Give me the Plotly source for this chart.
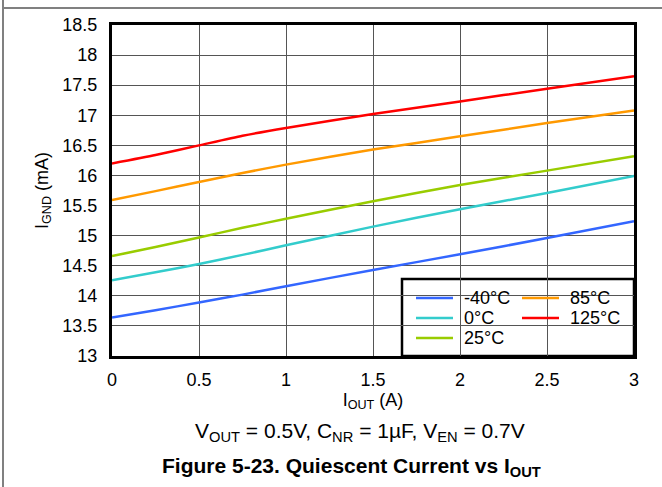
import plotly.graph_objects as go

# ---- data ----
iout = [0, 0.25, 0.5, 0.75, 1.0, 1.5, 2.0, 2.5, 3.0]
ignd_m40 = [13.64, 13.76, 13.89, 14.02, 14.16, 14.43, 14.69, 14.96, 15.24]
ignd_0 = [14.26, 14.39, 14.53, 14.68, 14.84, 15.15, 15.44, 15.71, 15.99]
ignd_25 = [14.66, 14.81, 14.97, 15.13, 15.28, 15.57, 15.84, 16.08, 16.32]
ignd_85 = [15.59, 15.74, 15.89, 16.04, 16.18, 16.43, 16.65, 16.87, 17.08]
ignd_125 = [16.20, 16.34, 16.50, 16.66, 16.79, 17.02, 17.23, 17.44, 17.65]

series_names = ["-40°C", "0°C", "25°C", "85°C", "125°C"]
series_values = [ignd_m40, ignd_0, ignd_25, ignd_85, ignd_125]
series_colors = ["#3366FF", "#33CCCC", "#99CC00", "#FF9900", "#FF0000"]

x_ticks = [0, 0.5, 1, 1.5, 2, 2.5, 3]
x_tick_labels = ["0", "0.5", "1", "1.5", "2", "2.5", "3"]
y_ticks = [13, 13.5, 14, 14.5, 15, 15.5, 16, 16.5, 17, 17.5, 18, 18.5]
y_tick_labels = ["13", "13.5", "14", "14.5", "15", "15.5", "16", "16.5", "17", "17.5", "18", "18.5"]

FONT = "Liberation Sans, Arial, sans-serif"

W, H = 662, 487
ML, MR, MT, MB = 112, 28, 25, 131
PW, PH = W - ML - MR, H - MT - MB


def px(xp):
    return (xp - ML) / PW


def py(yp):
    return (H - MB - yp) / PH


fig = go.Figure()
for name, ys, color in zip(series_names, series_values, series_colors):
    fig.add_trace(go.Scatter(
        x=iout, y=ys, mode="lines", name=name,
        line=dict(color=color, width=2.5, shape="spline", smoothing=0.6),
        showlegend=False,
    ))

# ---- legend box (two columns, like the reference) ----
shapes = [
    dict(type="rect", xref="paper", yref="paper", x0=px(402), x1=px(634), y0=py(356), y1=py(279),
         fillcolor="white", line=dict(color="black", width=2.5), layer="between"),
    # outer page frame lines
    dict(type="line", xref="paper", yref="paper", x0=px(3), x1=px(3), y0=py(0), y1=py(H),
         line=dict(color="#808080", width=2)),
    dict(type="line", xref="paper", yref="paper", x0=px(3), x1=px(W + 5), y0=py(8), y1=py(8),
         line=dict(color="#808080", width=2)),
]
annotations = []
legend_slots = [(416, 298), (416, 318), (416, 338), (522, 298), (522, 318)]
for (lx, ly), name, color in zip(legend_slots, series_names, series_colors):
    shapes.append(dict(type="line", xref="paper", yref="paper", x0=px(lx), x1=px(lx + 37),
                       y0=py(ly), y1=py(ly), line=dict(color=color, width=2.5), layer="above"))
    annotations.append(dict(text=name, xref="paper", yref="paper", x=px(lx + 46), y=py(ly),
                            xanchor="left", yanchor="middle", showarrow=False,
                            font=dict(family=FONT, size=18, color="black")))

annotations += [
    dict(text="V<sub>OUT</sub> = 0.5V, C<sub>NR</sub> = 1µF, V<sub>EN</sub> = 0.7V",
         xref="paper", yref="paper", x=px(360), y=py(432), xanchor="center", yanchor="middle",
         showarrow=False, font=dict(family=FONT, size=21, color="black")),
    dict(text="<b>Figure 5-23. Quiescent Current vs I<sub>OUT</sub></b>",
         xref="paper", yref="paper", x=px(351), y=py(467), xanchor="center", yanchor="middle",
         showarrow=False, font=dict(family=FONT, size=21, color="black")),
]

fig.update_layout(
    width=W, height=H,
    margin=dict(l=ML, r=MR, t=MT, b=MB, pad=0),
    paper_bgcolor="white", plot_bgcolor="white",
    font=dict(family=FONT, size=18, color="black"),
    showlegend=False,
    xaxis=dict(
        range=[0, 3], tickvals=x_ticks, ticktext=x_tick_labels,
        showgrid=True, gridcolor="#555555", gridwidth=1,
        showline=True, linecolor="black", linewidth=3, mirror=True,
        ticks="", zeroline=False, ticklabelstandoff=5,
        tickfont=dict(size=18),
        title=dict(text="I<sub>OUT</sub> (A)", standoff=3, font=dict(size=18)),
    ),
    yaxis=dict(
        range=[13, 18.5], tickvals=y_ticks, ticktext=y_tick_labels,
        showgrid=True, gridcolor="#555555", gridwidth=1,
        showline=True, linecolor="black", linewidth=3, mirror=True,
        ticks="", zeroline=False, ticklabelstandoff=8,
        tickfont=dict(size=18),
        title=dict(text="I<sub>GND</sub> (mA)", standoff=10, font=dict(size=18)),
    ),
    shapes=shapes,
    annotations=annotations,
)

fig.write_html("out.html")
